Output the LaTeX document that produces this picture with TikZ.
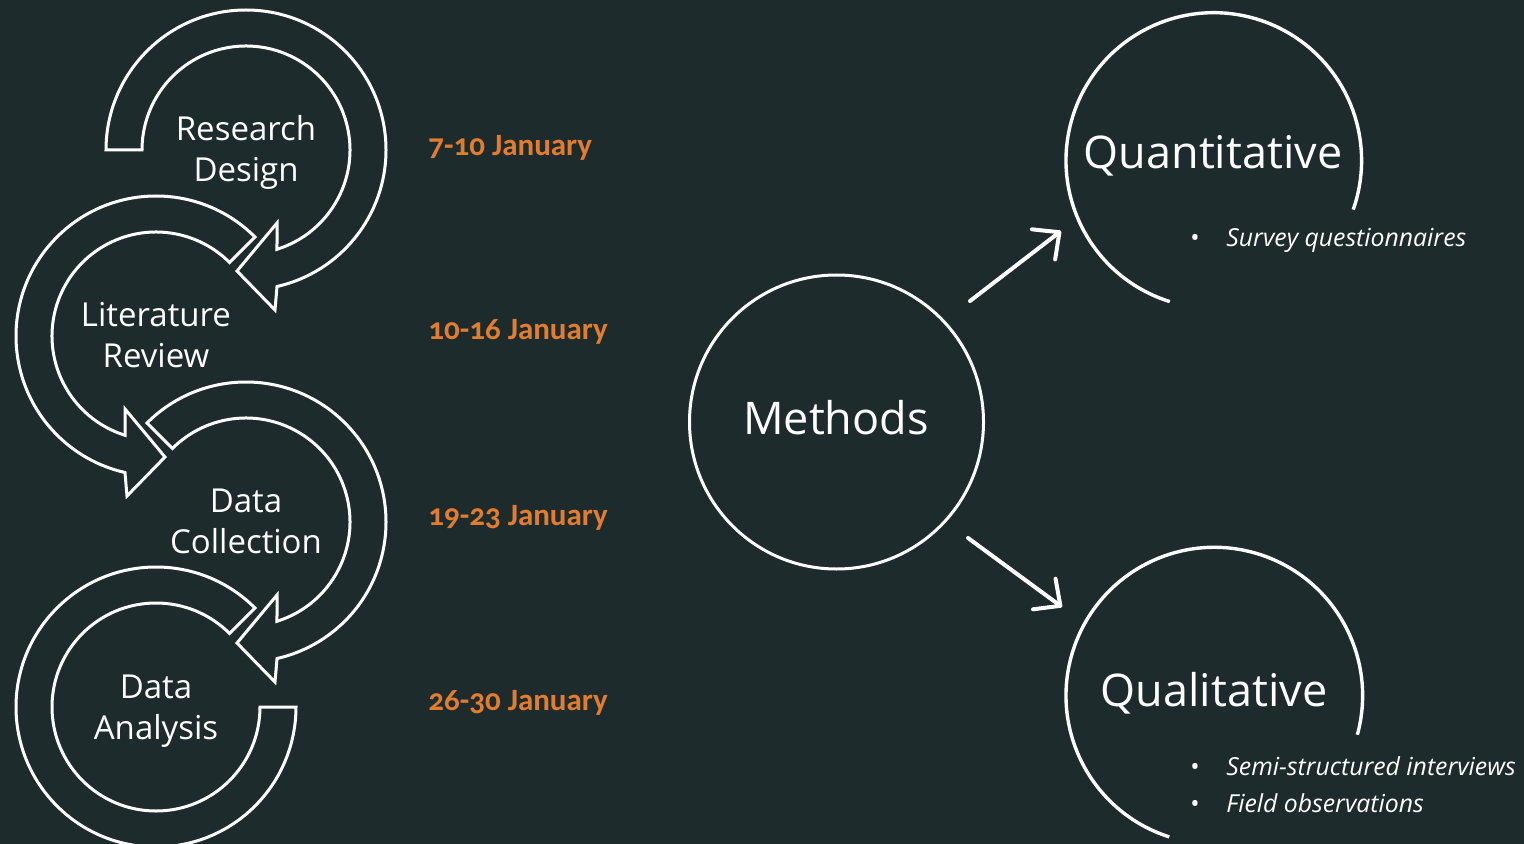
\documentclass[tikz,border=0pt]{standalone}
\usepackage{fontspec}
\setmainfont{Open Sans}
\newfontfamily\datefont{Carlito}[Numbers=OldStyle]
\usetikzlibrary{arrows.meta}
\definecolor{bg}{HTML}{1E2B2C}
\definecolor{datecol}{HTML}{E27D30}

% clockwise ring arrow: centre x, centre y, tail angle (screen degrees, y down)
\newcommand\cwring[3]{%
  \begin{scope}[shift={(#1,#2)}]
    \draw[ring] (#3:140) arc[start angle=#3, end angle=437.2, radius=140]
      -- (29,160) -- (-9,121) -- (31,73) -- (432.66:104)
      arc[start angle=432.66, end angle=#3, radius=104] -- cycle;
  \end{scope}}
% counter-clockwise ring arrow (mirror image of the above)
\newcommand\ccwring[3]{%
  \begin{scope}[shift={(#1,#2)}]
    \draw[ring] (#3:140) arc[start angle=#3, end angle=102.8, radius=140]
      -- (-29,160) -- (9,121) -- (-31,73) -- (107.34:104)
      arc[start angle=107.34, end angle=#3, radius=104] -- cycle;
  \end{scope}}

\begin{document}
\begin{tikzpicture}[x=0.5pt,y=-0.5pt,
  ring/.style={draw=white, line width=1.5pt, fill=bg, line join=miter},
  steplabel/.style={text=white, font=\fontsize{16.5}{20}\selectfont, anchor=base, inner sep=0pt},
  datelabel/.style={text=datecol, font=\datefont\bfseries\fontsize{15.5}{18}\selectfont, anchor=base west, inner sep=0pt},
  biglabel/.style={text=white, font=\fontsize{22.5}{27}\selectfont, anchor=base, inner sep=0pt},
  itemlabel/.style={text=white, font=\itshape\fontsize{12.4}{15}\selectfont, anchor=base west, inner sep=0pt},
  bulletmark/.style={text=white, font=\fontsize{12.4}{15}\selectfont, anchor=base, inner sep=0pt},
  openring/.style={draw=white, line width=1.7pt},
  bigcircle/.style={draw=white, line width=1.5pt, circle, minimum size=147pt, inner sep=0pt},
  branch/.style={draw=white, line width=2pt, line cap=round,
    -{Straight Barb[length=10pt, width=19pt, round]}},
]
\useasboundingbox (0,0) rectangle (1524,844);
\fill[bg] (0,0) rectangle (1524,844);

% process cycle, drawn bottom-up so each head lies on top
\begin{scope}[shift={(156,707)}]
  \draw[ring] (315:140) arc[start angle=315, end angle=0, radius=140]
    -- (0:104) arc[start angle=0, end angle=315, radius=104] -- cycle;
\end{scope}
\cwring{246}{522}{225}
\ccwring{156}{336}{315}
\cwring{246}{150}{180}

\node[steplabel] (rd1) at (246,141) {Research};
\node[steplabel] (rd2) at (246,182) {Design};
\node[steplabel] (lr1) at (156,327) {Literature};
\node[steplabel] (lr2) at (156,367) {Review};
\node[steplabel] (dc1) at (246,512) {Data};
\node[steplabel] (dc2) at (246,553) {Collection};
\node[steplabel] (da1) at (156,698) {Data};
\node[steplabel] (da2) at (156,739) {Analysis};

% schedule
\node[datelabel] (d1) at (428,156) {7-10 January};
\node[datelabel] (d2) at (428,340) {10-16 January};
\node[datelabel] (d3) at (428,525) {19-23 January};
\node[datelabel] (d4) at (428,710) {26-30 January};

% methods
\node[bigcircle] (methods) at (836.5,422) {};
\node[biglabel] (methodsText) at (836,434) {Methods};

\draw[openring] (1213.8,160.5) ++(107.3:147.8) arc[start angle=107.3, end angle=379.4, radius=147.8];
\node[biglabel] (quant) at (1213,169) {Quantitative};
\node[bulletmark] (b1) at (1195,247) {•};
\node[itemlabel] (i1) at (1226,247) {Survey questionnaires};

\draw[openring] (1214.3,695.6) ++(107.7:148.3) arc[start angle=107.7, end angle=375.3, radius=148.3];
\node[biglabel] (qual) at (1214,706) {Qualitative};
\node[bulletmark] (b2) at (1195,775) {•};
\node[itemlabel] (i2) at (1226,775) {Semi-structured interviews};
\node[bulletmark] (b3) at (1195,812) {•};
\node[itemlabel] (i3) at (1226,812) {Field observations};

\coordinate (qnFrom) at (970,301);
\coordinate (qnTo) at (1061,231);
\coordinate (qlFrom) at (968,538);
\coordinate (qlTo) at (1062,607);
\draw[branch] (qnFrom) -- (qnTo);
\draw[branch] (qlFrom) -- (qlTo);
\end{tikzpicture}
\end{document}
